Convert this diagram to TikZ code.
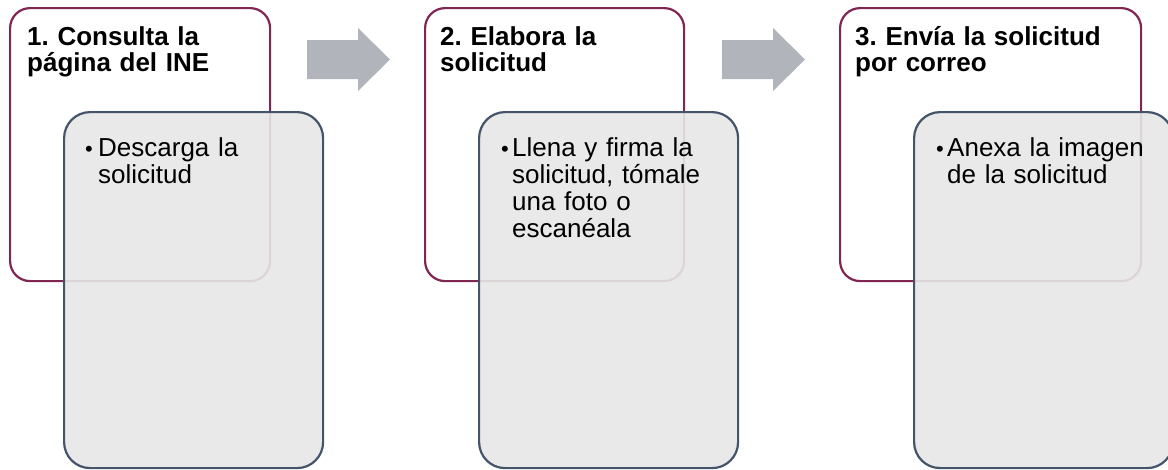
\documentclass[tikz,border=0pt]{standalone}
\usepackage{fontspec}
\setmainfont{Liberation Sans}
\usetikzlibrary{positioning}

\definecolor{stepred}{RGB}{128,38,82}
\definecolor{detailblue}{RGB}{68,84,106}
\definecolor{detailgray}{RGB}{231,231,231}
\definecolor{arrowgray}{RGB}{177,180,187}

\begin{document}
\frenchspacing
\begin{tikzpicture}[x=1pt,y=-1pt,
    stepcard/.style={draw=stepred, line width=2.2pt, fill=white, rounded corners=20pt,
        anchor=north west, minimum height=273pt, inner sep=0pt},
    detailcard/.style={draw=detailblue, line width=2.2pt, fill=detailgray, fill opacity=0.9,
        rounded corners=26pt, anchor=north west, minimum width=259pt, minimum height=356pt, inner sep=0pt},
    steptitle/.style={anchor=base west, inner sep=0pt, text width=290pt, align=left,
        font=\fontsize{26}{26.5}\selectfont\bfseries},
    itemtext/.style={anchor=base west, inner sep=0pt, text width=230pt, align=left,
        font=\fontsize{26}{27.3}\selectfont},
    bulletdot/.style={anchor=base west, inner sep=0pt, font=\fontsize{22}{27}\selectfont}]
    \useasboundingbox (0,0) rectangle (1168,469);

    \node[stepcard, minimum width=260pt] (card1) at (9,7) {};
    \node[stepcard, minimum width=259pt] (card2) at (424,7) {};
    \node[stepcard, minimum width=301pt] (card3) at (839,7) {};

    \node[detailcard] (detail1) at (63,111) {};
    \node[detailcard] (detail2) at (478,111) {};
    \node[detailcard] (detail3) at (913,111) {};

    \fill[arrowgray] (307,40) -- (358,40) -- (358,28) -- (390,59.5) -- (358,91) -- (358,79) -- (307,79) -- cycle;
    \fill[arrowgray] (722,40) -- (773,40) -- (773,28) -- (805,59.5) -- (773,91) -- (773,79) -- (722,79) -- cycle;

    \node[steptitle] (title1) at ([shift={(18,38)}]card1.north west) {1. Consulta la\\página del INE};
    \node[steptitle] (title2) at ([shift={(16,38)}]card2.north west) {2. Elabora la\\solicitud};
    \node[steptitle] (title3) at ([shift={(16,38)}]card3.north west) {3. Envía la solicitud\\por correo};

    \node[bulletdot] (bullet1) at ([shift={(22,45)}]detail1.north west) {•};
    \node[bulletdot] (bullet2) at ([shift={(23,45)}]detail2.north west) {•};
    \node[bulletdot] (bullet3) at ([shift={(23,45)}]detail3.north west) {•};

    \node[itemtext] (item1) at ([shift={(35,45)}]detail1.north west) {Descarga la\\solicitud};
    \node[itemtext] (item2) at ([shift={(34,45)}]detail2.north west) {Llena y firma la\\solicitud, tómale\\una foto o\\escanéala};
    \node[itemtext] (item3) at ([shift={(34,45)}]detail3.north west) {Anexa la imagen\\de la solicitud};
\end{tikzpicture}
\end{document}
